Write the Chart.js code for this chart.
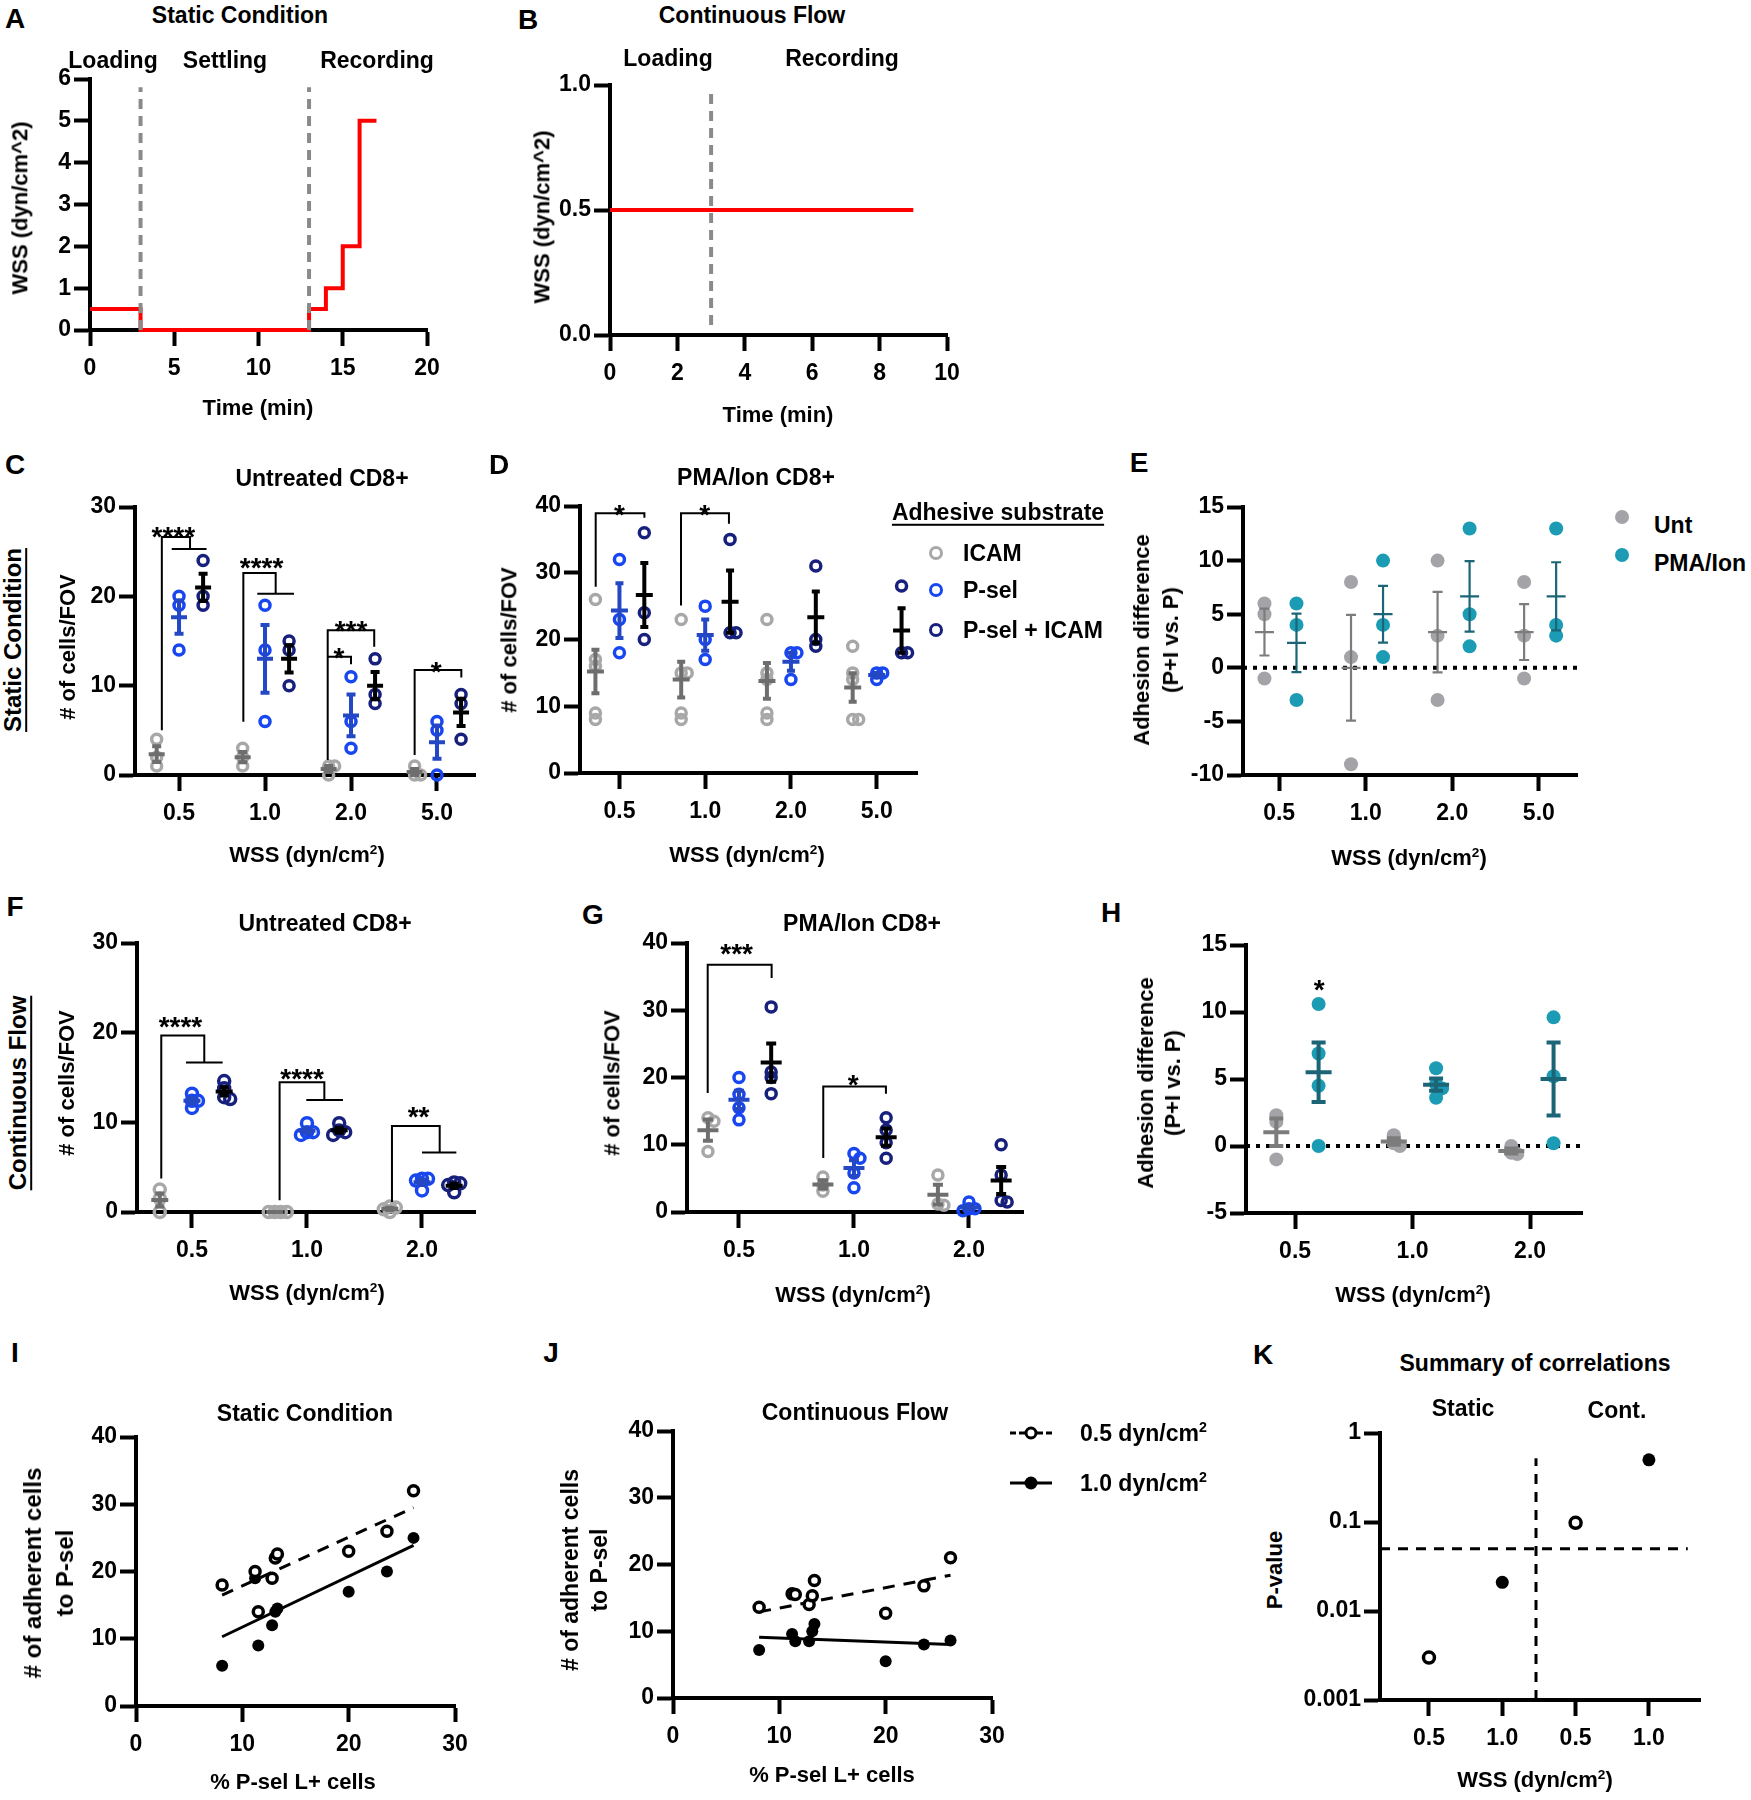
<!DOCTYPE html>
<html>
<head>
<meta charset="utf-8">
<title>T cell adhesion under wall shear stress</title>
<script src="https://cdn.jsdelivr.net/npm/chart.js@4.4.1/dist/chart.umd.min.js"></script>
<style>
  body { margin: 0; background: #fff; }
  #fig { position: relative; width: 1751px; height: 1800px; overflow: hidden;
         font-family: "Liberation Sans", Arial, Helvetica, sans-serif; font-weight: bold; color: #000; }
  #fig canvas { position: absolute; }
  .t { position: absolute; white-space: nowrap; line-height: 1.15; transform: translate(-50%, -50%); z-index: 2; }
  .t sup { font-size: 62%; line-height: 0; }
  .dot { position: absolute; border-radius: 50%; box-sizing: border-box; transform: translate(-50%, -50%); z-index: 2; }
  .key { position: absolute; height: 0; transform: translate(-50%, -50%); z-index: 2; }
</style>
</head>
<body>
<div id="fig"></div>
<script>
// ---------- values ----------
// A, B: shear stress protocols (step changes)
const staticTime = [0, 3, 13, 14, 15, 16, 17];
const staticWss = [0.5, 0, 0.5, 1, 2, 5, 5];
const staticPhaseEnds = [3, 13];
const flowTime = [0, 9];
const flowWss = [0.5, 0.5];
const flowPhaseEnds = [3];

const wssFour = ['0.5', '1.0', '2.0', '5.0'];
const wssThree = ['0.5', '1.0', '2.0'];
const wssK = ['0.5', '1.0', '0.5', '1.0'];
const substrates = ['ICAM', 'P-sel', 'P-sel + ICAM'];
const treatments = ['Unt', 'PMA/Ion'];
const corrSeries = ['0.5 dyn/cm<sup>2</sup>', '1.0 dyn/cm<sup>2</sup>'];

// C: static, untreated CD8+ (one inner array per WSS level)
const cIcam = [[4, 2, 1], [3, 2, 1], [1, 1, 0], [1, 0, 0]];
const cPsel = [[20, 19, 14], [19, 14, 6], [11, 6, 3], [6, 5, 0]];
const cPselIcam = [[24, 20, 19], [15, 14, 10], [13, 9, 8], [9, 8, 4]];
// D: static, PMA/Ion CD8+
const dIcam = [[26, 17, 16, 9, 8], [23, 15, 15, 9, 8], [23, 15, 14, 9, 8], [19, 15, 14, 8, 8]];
const dPsel = [[32, 23, 18], [25, 20, 17], [18, 18, 14], [15, 15, 14]];
const dPselIcam = [[36, 24, 20], [35, 21, 21], [31, 20, 19], [28, 18, 18]];
// E: adhesion difference, static
const eUnt = [[6, 5, -1], [8, 1, -9], [10, 3, -3], [8, 3, -1]];
const ePma = [[6, 4, -3], [10, 4, 1], [13, 5, 2], [13, 4, 3]];
// F: continuous flow, untreated CD8+
const fIcam = [[2.5, 1.5, 0], [0, 0, 0, 0], [0.6, 0.5, 0.3, 0]];
const fPsel = [[13.2, 12.4, 12.4, 11.6], [9.9, 8.9, 8.9, 8.6], [3.7, 3.7, 3.5, 2.4]];
const fPselIcam = [[14.6, 13.8, 12.8, 12.6], [9.9, 9.1, 8.9, 8.6], [3.3, 3.2, 3.0, 2.2]];
// G: continuous flow, PMA/Ion CD8+
const gIcam = [[14, 13.5, 9], [5.2, 4, 3.1], [5.5, 1.2, 1.0]];
const gPsel = [[20, 17.5, 15.5, 13.7], [8.7, 8, 5.8, 3.6], [1.5, 0.5, 0.5, 0.2]];
const gPselIcam = [[30.5, 20.8, 20, 17.6], [14, 12.2, 10.3, 8], [10, 5.5, 1.7, 1.5]];
// H: adhesion difference, continuous flow
const hUnt = [[2.3, 1.8, -1], [0.8, 0.2, 0], [0, -0.5, -0.6]];
const hPma = [[10.6, 6.9, 4.5, 0], [5.8, 4.6, 4.3, 3.6], [9.6, 5.2, 0.2]];
// I, J: adherent cells vs % P-sel L+ cells
const pselPct = [8.1, 11.2, 11.5, 12.8, 13.1, 13.3, 20.0, 23.6, 26.1];
const iStatic05 = [18, 20, 14, 19, 22, 22.6, 23, 26, 32];
const iStatic10 = [6, 19, 9, 12, 14, 14.5, 17, 20, 25];
const fitX = [8.1, 26.1];
const iFit05 = [16.5, 29.5];
const iFit10 = [10.3, 23.9];
const jFlow05 = [13.6, 15.6, 15.5, 14.0, 15.3, 17.6, 12.7, 16.8, 21.0];
const jFlow10 = [7.2, 9.6, 8.5, 8.5, 10.0, 11.1, 5.5, 8.0, 8.6];
const jFit05 = [12.9, 18.4];
const jFit10 = [9.1, 8.0];
// K: correlation p-values
const kPvalues = [0.003, 0.021, 0.098, 0.5];
const kFilled = [false, true, false, true];
const kThreshold = 0.05;

// ---------- significance annotations (data units) ----------
const cBrackets = [
  [[-0.2, 5.0], [-0.2, 26.65], [0.128, 26.65], [0.128, 25.3]], [[-0.085, 25.3], [0.32, 25.3]],
  [[0.748, 5.96], [0.748, 22.6], [1.124, 22.6], [1.124, 20.3]], [[0.91, 20.3], [1.337, 20.3]],
  [[1.729, 1.68], [1.729, 16.2], [2.27, 16.2], [2.27, 14.35]],
  [[1.729, 13.23], [2.0, 13.23], [2.0, 12.4]],
  [[2.74, 2.24], [2.74, 11.74], [3.283, 11.74], [3.283, 10.92]]
];
const cStars = [[-0.066, 27.4, '****'], [0.96, 24.0, '****'], [2.0, 16.96, '***'], [1.86, 13.9, '*'], [2.99, 12.3, '*']];
const dBrackets = [
  [[-0.277, 27.9], [-0.277, 38.9], [0.291, 38.9], [0.291, 38.25]],
  [[0.718, 25.1], [0.718, 38.9], [1.277, 38.9], [1.277, 37.35]]
];
const dStars = [[0, 39.8, '*'], [0.995, 39.8, '*']];
const fBrackets = [
  [[-0.267, 3.73], [-0.267, 19.68], [0.107, 19.68], [0.107, 16.66]], [[-0.052, 16.66], [0.267, 16.66]],
  [[0.762, 1.3], [0.762, 14.46], [1.151, 14.46], [1.151, 12.49]], [[0.994, 12.49], [1.313, 12.49]],
  [[1.739, 1.12], [1.739, 9.58], [2.154, 9.58], [2.154, 6.63]], [[2.0, 6.63], [2.299, 6.63]]
];
const fStars = [[-0.10, 21.43, '****'], [0.957, 15.65, '****'], [1.97, 11.37, '**']];
const gBrackets = [
  [[-0.272, 17.7], [-0.272, 36.77], [0.284, 36.77], [0.284, 34.79]],
  [[0.733, 8.03], [0.733, 18.68], [1.278, 18.68], [1.278, 17.59]]
];
const gStars = [[-0.02, 39.4, '***'], [0.994, 19.9, '*']];
const hStars = [[0.206, 12.15, '*']];

// ---------- layout: plot-area edges in page pixels ----------
const LAYOUT = {
  A: { L: 90, T: 79, R: 427, B: 330, xmin: 0, xmax: 20, ymin: 0, ymax: 6 },
  B: { L: 610, T: 85, R: 947, B: 335, xmin: 0, xmax: 10, ymin: 0, ymax: 1 },
  C: { L: 135, T: 507, R: 475, B: 775, xmin: -0.512, xmax: 3.442, ymin: 0, ymax: 30 },
  D: { L: 580, T: 506, R: 917, B: 773, xmin: -0.46, xmax: 3.47, ymin: 0, ymax: 40 },
  E: { L: 1243, T: 507, R: 1577, B: 775, xmin: -0.418, xmax: 3.441, ymin: -10, ymax: 15 },
  F: { L: 137, T: 943, R: 475, B: 1212, xmin: -0.478, xmax: 2.461, ymin: 0, ymax: 30 },
  G: { L: 687, T: 943, R: 1023, B: 1212, xmin: -0.452, xmax: 2.47, ymin: 0, ymax: 40 },
  H: { L: 1246, T: 945, R: 1582, B: 1213, xmin: -0.418, xmax: 2.442, ymin: -5, ymax: 15 },
  I: { L: 136, T: 1437, R: 455, B: 1706, xmin: 0, xmax: 30, ymin: 0, ymax: 40 },
  J: { L: 673, T: 1431, R: 992, B: 1698, xmin: 0, xmax: 30, ymin: 0, ymax: 40 },
  K: { L: 1380, T: 1433, R: 1700, B: 1700, xmin: -0.668, xmax: 3.697, ymin: 0.001, ymax: 1 }
};
const PAD = { l: 80, t: 26, r: 34, b: 70 };

const ICAM_PT = '#a8a8a8', ICAM_BAR = '#6e6e6e';
const PSEL_PT = '#1846f0', PSEL_BAR = '#2447c4';
const PI_PT = '#17207c', PI_BAR = '#000000';
const UNT_PT = '#a4a4a8', UNT_BAR = '#7c7c7c';
const PMA_PT = '#1b9cb4', PMA_BAR = '#1b6576';
const RED = '#ff0000', PHASE = '#8a8a8a';

const fig = document.getElementById('fig');
const FONT = '"Liberation Sans", Arial, Helvetica, sans-serif';

Chart.defaults.font.family = FONT;
Chart.defaults.font.weight = 'bold';
Chart.defaults.color = '#000';

// ---------- helpers ----------
const xy = (xs, ys) => xs.map((x, i) => ({ x, y: ys[i] }));

function meanSem(v) {
  const n = v.length;
  const m = v.reduce((a, b) => a + b, 0) / n;
  const sd = Math.sqrt(v.reduce((a, b) => a + (b - m) ** 2, 0) / (n - 1));
  return [m, sd / Math.sqrt(n)];
}

function axis(min, max, tickVals, fmt, o = {}) {
  return {
    type: o.log ? 'logarithmic' : 'linear',
    min, max,
    border: { display: true, color: '#000', width: 4 },
    grid: { display: true, drawOnChartArea: false, drawTicks: true, tickLength: 16, tickWidth: 4, tickColor: '#000' },
    ticks: {
      color: '#000', autoSkip: false, maxRotation: 0, padding: o.pad ?? 3, callback: fmt,
      font: { family: FONT, size: 23, weight: 'bold' }
    },
    afterBuildTicks: s => { s.ticks = tickVals.map(v => ({ value: v })); },
    afterFit: s => { if (s.isHorizontal()) s.height = PAD.b; else s.width = PAD.l; }
  };
}

function marks(data, color, o = {}) {
  const r = o.r ?? 5;
  return {
    data, showLine: false, borderWidth: 0, order: o.order ?? 2, clip: false,
    pointRadius: r, pointHoverRadius: r,
    pointBorderWidth: o.filled ? 0 : (o.bw ?? 3.5),
    pointBorderColor: color,
    pointBackgroundColor: o.filled ? color : (o.white ? '#ffffff' : 'rgba(0,0,0,0)'),
    borderColor: color, backgroundColor: color
  };
}

function path(data, color, width, dash, order = 1, extra = {}) {
  return Object.assign({
    data, order, clip: false, pointRadius: 0, pointHoverRadius: 0,
    borderColor: color, borderWidth: width, borderDash: dash || [],
    tension: 0, spanGaps: false, fill: false
  }, extra);
}

// push overlapping points sideways, like a column scatter
function spread(groups, off, pxX, pxY) {
  const out = [];
  groups.forEach((vals, ci) => {
    const placed = [];
    vals.forEach(v => {
      const py = v * pxY;
      let dx = 0;
      for (const k of [0, 1, -1, 2, -2]) {
        if (placed.every(p => Math.hypot(p[0] - k * 6, p[1] - py) >= 5)) { dx = k * 6; break; }
      }
      placed.push([dx, py]);
      out.push({ x: ci + off + dx / pxX, y: v });
    });
  });
  return out;
}

// mean line + SEM whiskers with caps, as one broken path
function errBars(groups, off, pxX, meanHalf, capHalf) {
  const gap = { x: null, y: null };
  const out = [];
  groups.forEach((vals, ci) => {
    const [m, s] = meanSem(vals);
    const cx = ci + off, mw = meanHalf / pxX, cw = capHalf / pxX;
    out.push({ x: cx - mw, y: m }, { x: cx + mw, y: m }, gap,
             { x: cx, y: m - s }, { x: cx, y: m + s }, gap,
             { x: cx - cw, y: m + s }, { x: cx + cw, y: m + s }, gap,
             { x: cx - cw, y: m - s }, { x: cx + cw, y: m - s }, gap);
  });
  return out;
}

function starPlugin(items, size = 28) {
  return {
    id: 'stars',
    afterDatasetsDraw(chart) {
      const { ctx, scales: { x, y } } = chart;
      ctx.save();
      ctx.fillStyle = '#000';
      ctx.textAlign = 'center';
      ctx.textBaseline = 'alphabetic';
      ctx.font = `bold ${size}px ${FONT}`;
      items.forEach(([sx, sy, t]) => ctx.fillText(t, x.getPixelForValue(sx), y.getPixelForValue(sy) + 0.58 * size));
      ctx.restore();
    }
  };
}

function makeChart(p, datasets, xAxis, yAxis, extra = []) {
  const cv = document.createElement('canvas');
  cv.width = p.R - p.L + PAD.l + PAD.r;
  cv.height = p.B - p.T + PAD.t + PAD.b;
  cv.style.left = (p.L - PAD.l) + 'px';
  cv.style.top = (p.T - PAD.t) + 'px';
  fig.appendChild(cv);
  return new Chart(cv, {
    type: 'line',
    data: { datasets },
    options: {
      responsive: false, animation: false, events: [],
      layout: { padding: { left: 0, top: PAD.t, right: PAD.r, bottom: 0 }, autoPadding: false },
      scales: { x: xAxis, y: yAxis },
      plugins: { legend: { display: false }, tooltip: { enabled: false } }
    },
    plugins: extra
  });
}

function groupedPanel(p, labels, series, o) {
  const pxX = (p.R - p.L) / (p.xmax - p.xmin);
  const pxY = (p.B - p.T) / (p.ymax - p.ymin);
  const ds = [];
  series.forEach(s => {
    ds.push(path(errBars(s.vals, s.off, pxX, o.meanHalf, o.capHalf), s.bar, o.barW, null, 0));
    ds.push(marks(spread(s.vals, s.off, pxX, pxY), s.pt, o.mark));
  });
  (o.brackets || []).forEach(b => ds.push(path(b.map(([x, y]) => ({ x, y })), '#000', 2, null, 0)));
  if (o.zeroLine) ds.push(path([{ x: p.xmin, y: 0 }, { x: p.xmax, y: 0 }], '#000', 4, [4, 6], 3));
  return makeChart(p, ds,
    axis(p.xmin, p.xmax, labels.map((_, i) => i), v => labels[Math.round(v)], { pad: 9 }),
    axis(p.ymin, p.ymax, o.yTicks, v => String(v)),
    o.stars ? [starPlugin(o.stars)] : []);
}

function txt(html, x, y, o = {}) {
  const d = document.createElement('div');
  d.className = 't';
  d.innerHTML = html;
  d.style.left = x + 'px';
  d.style.top = y + 'px';
  d.style.fontSize = (o.size || 23) + 'px';
  if (o.left) d.style.transform = 'translate(0, -50%)';
  else if (o.rot) { d.style.textAlign = 'center'; d.style.transform = 'translate(-50%, -50%) rotate(-90deg)'; }
  if (o.lh) d.style.lineHeight = o.lh + 'px';
  if (o.u) { d.style.textDecoration = 'underline'; d.style.textDecorationThickness = '2px'; d.style.textUnderlineOffset = '4px'; }
  fig.appendChild(d);
}

function dot(x, y, color, o = {}) {
  const d = document.createElement('div');
  d.className = 'dot';
  const size = o.size || 14;
  d.style.left = x + 'px'; d.style.top = y + 'px';
  d.style.width = size + 'px'; d.style.height = size + 'px';
  if (o.filled) d.style.background = color;
  else { d.style.border = (o.bw || 3.5) + 'px solid ' + color; d.style.background = o.white ? '#fff' : 'transparent'; }
  fig.appendChild(d);
}

// ---------- A: static protocol ----------
const pA = LAYOUT.A;
makeChart(pA, [
  ...staticPhaseEnds.map(t => path([{ x: t, y: 0 }, { x: t, y: 5.8 }], PHASE, 4, [10, 7], 0)),
  path(xy(staticTime, staticWss), RED, 4, null, 1, { stepped: 'before' })
], axis(0, 20, [0, 5, 10, 15, 20], v => String(v), { pad: 9 }),
   axis(0, 6, [0, 1, 2, 3, 4, 5, 6], v => String(v)));

// ---------- B: continuous flow protocol ----------
const pB = LAYOUT.B;
makeChart(pB, [
  ...flowPhaseEnds.map(t => path([{ x: t, y: 0.04 }, { x: t, y: 0.98 }], PHASE, 4, [10, 7], 0)),
  path(xy(flowTime, flowWss), RED, 4, null, 1)
], axis(0, 10, [0, 2, 4, 6, 8, 10], v => String(v), { pad: 9 }),
   axis(0, 1, [0, 0.5, 1], v => v.toFixed(1)));

// ---------- C, D, F, G: cells per field of view ----------
groupedPanel(LAYOUT.C, wssFour, [
  { vals: cIcam, off: -0.26, pt: ICAM_PT, bar: ICAM_BAR },
  { vals: cPsel, off: 0, pt: PSEL_PT, bar: PSEL_BAR },
  { vals: cPselIcam, off: 0.28, pt: PI_PT, bar: PI_BAR }
], { meanHalf: 8, capHalf: 4.5, barW: 4, mark: { r: 5, bw: 3.5 }, yTicks: [0, 10, 20, 30], brackets: cBrackets, stars: cStars });

groupedPanel(LAYOUT.D, wssFour, [
  { vals: dIcam, off: -0.28, pt: ICAM_PT, bar: ICAM_BAR },
  { vals: dPsel, off: 0, pt: PSEL_PT, bar: PSEL_BAR },
  { vals: dPselIcam, off: 0.29, pt: PI_PT, bar: PI_BAR }
], { meanHalf: 8.5, capHalf: 4, barW: 4, mark: { r: 5, bw: 3.5 }, yTicks: [0, 10, 20, 30, 40], brackets: dBrackets, stars: dStars });

groupedPanel(LAYOUT.F, wssThree, [
  { vals: fIcam, off: -0.28, pt: ICAM_PT, bar: ICAM_BAR },
  { vals: fPsel, off: 0, pt: PSEL_PT, bar: PSEL_BAR },
  { vals: fPselIcam, off: 0.28, pt: PI_PT, bar: PI_BAR }
], { meanHalf: 8.5, capHalf: 4.5, barW: 4, mark: { r: 5.5, bw: 3.5 }, yTicks: [0, 10, 20, 30], brackets: fBrackets, stars: fStars });

groupedPanel(LAYOUT.G, wssThree, [
  { vals: gIcam, off: -0.27, pt: ICAM_PT, bar: ICAM_BAR },
  { vals: gPsel, off: 0, pt: PSEL_PT, bar: PSEL_BAR },
  { vals: gPselIcam, off: 0.28, pt: PI_PT, bar: PI_BAR }
], { meanHalf: 10.5, capHalf: 5, barW: 4, mark: { r: 5, bw: 3.5 }, yTicks: [0, 10, 20, 30, 40], brackets: gBrackets, stars: gStars });

// ---------- E, H: adhesion difference ----------
groupedPanel(LAYOUT.E, wssFour, [
  { vals: eUnt, off: -0.17, pt: UNT_PT, bar: UNT_BAR },
  { vals: ePma, off: 0.2, pt: PMA_PT, bar: PMA_BAR }
], { meanHalf: 9.5, capHalf: 5, barW: 2.2, mark: { r: 7, filled: true }, yTicks: [-10, -5, 0, 5, 10, 15], zeroLine: true });

groupedPanel(LAYOUT.H, wssThree, [
  { vals: hUnt, off: -0.16, pt: UNT_PT, bar: UNT_BAR },
  { vals: hPma, off: 0.2, pt: PMA_PT, bar: PMA_BAR }
], { meanHalf: 13, capHalf: 7, barW: 4, mark: { r: 7, filled: true }, yTicks: [-5, 0, 5, 10, 15], zeroLine: true, stars: hStars });

// ---------- I, J: correlations ----------
function corrPanel(p, y05, y10, fit05, fit10) {
  return makeChart(p, [
    marks(xy(pselPct, y05), '#000', { r: 5, bw: 3.5, white: true, order: 0 }),
    marks(xy(pselPct, y10), '#000', { r: 6, filled: true, order: 0.5 }),
    path(xy(fitX, fit05), '#000', 3, [12, 9], 1),
    path(xy(fitX, fit10), '#000', 3, null, 1)
  ], axis(0, 30, [0, 10, 20, 30], v => String(v), { pad: 9 }),
     axis(0, 40, [0, 10, 20, 30, 40], v => String(v)));
}
corrPanel(LAYOUT.I, iStatic05, iStatic10, iFit05, iFit10);
corrPanel(LAYOUT.J, jFlow05, jFlow10, jFit05, jFit10);

// ---------- K: summary of p-values ----------
const pK = LAYOUT.K;
const kPts = kPvalues.map((y, i) => ({ x: i, y }));
makeChart(pK, [
  marks(kPts.filter((_, i) => !kFilled[i]), '#000', { r: 5.5, bw: 3.5, white: true, order: 0 }),
  marks(kPts.filter((_, i) => kFilled[i]), '#000', { r: 6.5, filled: true, order: 0 }),
  path([{ x: pK.xmin, y: kThreshold }, { x: 3.53, y: kThreshold }], '#000', 3, [10, 8], 1),
  path([{ x: 1.46, y: 0.001 }, { x: 1.46, y: 0.52 }], '#000', 3, [10, 8], 1)
], axis(pK.xmin, pK.xmax, [0, 1, 2, 3], v => wssK[Math.round(v)], { pad: 9 }),
   axis(0.001, 1, [0.001, 0.01, 0.1, 1], v => String(v), { log: true }));

// ---------- text ----------
const WSS = 'WSS (dyn/cm<sup>2</sup>)';
[['A', 15, 19], ['B', 528, 20], ['C', 15, 465], ['D', 499, 465], ['E', 1139, 463], ['F', 15, 907],
 ['G', 593, 915], ['H', 1111, 913], ['I', 15, 1353], ['J', 551, 1353], ['K', 1263, 1355]]
  .forEach(([l, x, y]) => txt(l, x, y, { size: 28 }));

txt('Static Condition', 240, 15);
txt('Loading', 113, 60); txt('Settling', 225, 60); txt('Recording', 377, 60);
txt('WSS (dyn/cm^2)', 20, 208, { rot: true, size: 22 });
txt('Time (min)', 258, 408, { size: 22 });

txt('Continuous Flow', 752, 15);
txt('Loading', 668, 58); txt('Recording', 842, 58);
txt('WSS (dyn/cm^2)', 542, 217, { rot: true, size: 22 });
txt('Time (min)', 778, 415, { size: 22 });

txt('Static Condition', 13, 640, { rot: true, size: 24, u: true });
txt('Untreated CD8+', 322, 478);
txt('# of cells/FOV', 68, 647, { rot: true, size: 22 });
txt(WSS, 307, 855, { size: 22 });

txt('PMA/Ion CD8+', 756, 477);
txt('# of cells/FOV', 509, 640, { rot: true, size: 22 });
txt(WSS, 747, 855, { size: 22 });
txt('Adhesive substrate', 998, 512, { u: true });
[[ICAM_PT, 553], [PSEL_PT, 590], [PI_PT, 630]].forEach(([c, y], i) => {
  dot(936, y, c, { size: 14 });
  txt(substrates[i], 963, y, { left: true });
});

txt('Adhesion difference<br>(P+I vs. P)', 1156, 640, { rot: true, size: 22, lh: 29 });
txt(WSS, 1409, 858, { size: 22 });
[[UNT_PT, 517, 525], [PMA_PT, 555, 563]].forEach(([c, yd, yt], i) => {
  dot(1622, yd, c, { filled: true, size: 14 });
  txt(treatments[i], 1654, yt, { left: true });
});

txt('Continuous Flow', 18, 1093, { rot: true, size: 24, u: true });
txt('Untreated CD8+', 325, 923);
txt('# of cells/FOV', 67, 1083, { rot: true, size: 22 });
txt(WSS, 307, 1293, { size: 22 });

txt('PMA/Ion CD8+', 862, 923);
txt('# of cells/FOV', 612, 1083, { rot: true, size: 22 });
txt(WSS, 853, 1295, { size: 22 });

txt('Adhesion difference<br>(P+I vs. P)', 1159, 1083, { rot: true, size: 22, lh: 27 });
txt(WSS, 1413, 1295, { size: 22 });

txt('Static Condition', 305, 1413);
txt('# of adherent cells<br>to P-sel', 49, 1573, { rot: true, size: 24, lh: 32 });
txt('% P-sel L+ cells', 293, 1782, { size: 22 });

txt('Continuous Flow', 855, 1412);
txt('# of adherent cells<br>to P-sel', 585, 1570, { rot: true, size: 23, lh: 29 });
txt('% P-sel L+ cells', 832, 1775, { size: 22 });
[[1433, true], [1483, false]].forEach(([y, dashed], i) => {
  const k = document.createElement('div');
  k.className = 'key';
  k.style.left = '1031px'; k.style.top = y + 'px'; k.style.width = '42px';
  k.style.borderTop = '3px ' + (dashed ? 'dashed' : 'solid') + ' #000';
  fig.appendChild(k);
  dot(1031, y, '#000', dashed ? { size: 13, white: true } : { filled: true, size: 13 });
  txt(corrSeries[i], 1080, y, { left: true });
});

txt('Summary of correlations', 1535, 1363);
txt('Static', 1463, 1408); txt('Cont.', 1617, 1410);
txt('P-value', 1275, 1570, { rot: true, size: 22 });
txt(WSS, 1535, 1780, { size: 22 });
</script>
</body>
</html>
